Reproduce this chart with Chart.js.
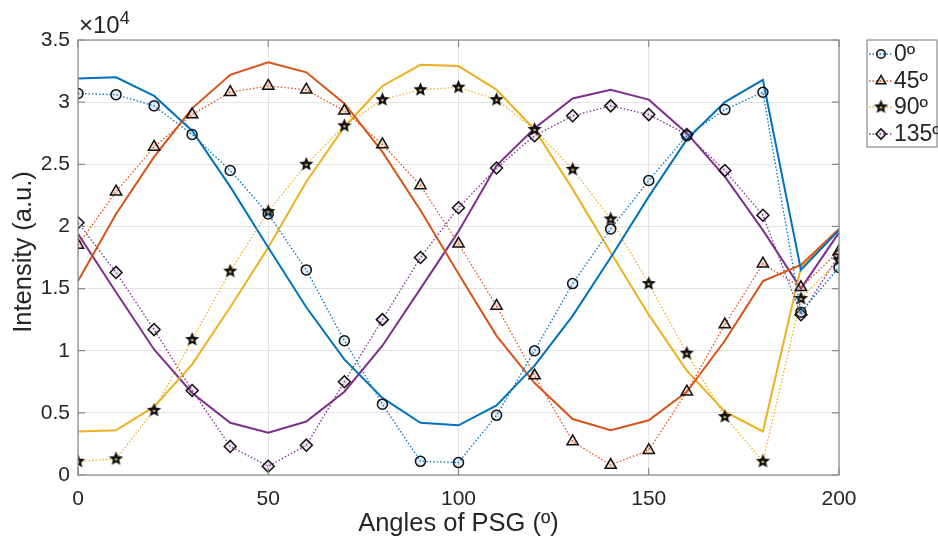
<!DOCTYPE html>
<html>
<head>
<meta charset="utf-8">
<script src="https://cdn.jsdelivr.net/npm/chart.js@4"></script>
<style>
html, body { margin: 0; padding: 0; background: #fff; }
</style>
</head>
<body>
<canvas id="chart" width="938" height="544"></canvas>
<script>
// angles of the PSG (x axis)
const angles = [0, 10, 20, 30, 40, 50, 60, 70, 80, 90, 100, 110, 120, 130, 140, 150, 160, 170, 180, 190, 200];

// simulated curves (solid)
const sim0   = [31900, 32000, 30500, 27700, 23200, 18300, 13500, 9300, 6200, 4200, 4000, 5600, 8800, 12800, 17500, 22400, 27000, 30000, 31800, 16500, 19700];
const sim45  = [15600, 21000, 25600, 29500, 32200, 33200, 32400, 29900, 26000, 21300, 16200, 11200, 7400, 4500, 3600, 4400, 6700, 10800, 15600, 16900, 19800];
const sim90  = [3500, 3600, 5500, 8900, 13500, 18300, 23600, 28000, 31300, 33000, 32900, 31000, 27800, 23000, 17900, 12900, 8400, 5100, 3500, 16700, 19700];
const sim135 = [19400, 14700, 10100, 6600, 4200, 3400, 4300, 6700, 10400, 15000, 19600, 24900, 27900, 30300, 31000, 30200, 27500, 24000, 19700, 15000, 19500];

// measured curves (dotted + markers)
const meas0   = [30700, 30600, 29700, 27400, 24500, 21000, 16500, 10800, 5700, 1100, 1000, 4800, 10000, 15400, 19800, 23700, 27300, 29400, 30800, 13100, 16700];
const meas45  = [18500, 22800, 26400, 29000, 30800, 31300, 31000, 29300, 26600, 23300, 18600, 13600, 8000, 2700, 800, 2000, 6700, 12100, 17000, 15100, 18000];
const meas90  = [1100, 1300, 5200, 10900, 16400, 21200, 25000, 28100, 30200, 31000, 31200, 30200, 27800, 24600, 20600, 15400, 9800, 4700, 1100, 14200, 17300];
const meas135 = [20300, 16300, 11700, 6800, 2300, 700, 2400, 7500, 12500, 17500, 21500, 24700, 27300, 28900, 29700, 29000, 27400, 24500, 20900, 12900, 17700];

const seriesNames = ['0º', '45º', '90º', '135º'];
const xTicks = [0, 50, 100, 150, 200];
const yTicks = [0, 5000, 10000, 15000, 20000, 25000, 30000, 35000];

const colors = ['#0072BD', '#D95319', '#EDB120', '#7E2F8E'];
const fills = ['rgba(0,114,189,0.12)', 'rgba(217,83,25,0.2)', 'rgba(237,177,32,0.3)', 'rgba(126,47,142,0.12)'];
const FONT = "'Liberation Sans', Arial, Helvetica, sans-serif";

// filled star marker (chart.js 'star' is only an asterisk)
function makeStar(r) {
    const c = document.createElement('canvas');
    const s = Math.ceil(r * 2 + 4);
    c.width = s; c.height = s;
    const g = c.getContext('2d');
    g.beginPath();
    for (let i = 0; i < 10; i++) {
        const rad = i % 2 === 0 ? r : r * 0.45;
        const a = -Math.PI / 2 + i * Math.PI / 5;
        const px = s / 2 + rad * Math.cos(a), py = s / 2 + rad * Math.sin(a);
        if (i === 0) g.moveTo(px, py); else g.lineTo(px, py);
    }
    g.closePath();
    g.fillStyle = '#111';
    g.fill();
    g.beginPath();
    g.arc(s / 2, s / 2 + 0.5, 1.3, 0, Math.PI * 2);
    g.fillStyle = '#d8b860';
    g.fill();
    return c;
}
const star = makeStar(7.5);

const markerStyles = ['circle', 'triangle', star, 'rectRot'];
const markerRadius = [5, 6.5, 7.5, 6];

function pts(ys) {
    return angles.map((x, i) => ({ x: x, y: ys[i] }));
}

const sims = [sim0, sim45, sim90, sim135];
const meas = [meas0, meas45, meas90, meas135];

const datasets = [];
sims.forEach((d, i) => {
    datasets.push({
        label: 'sim ' + seriesNames[i],
        data: pts(d),
        borderColor: colors[i],
        borderWidth: 2,
        pointRadius: 0,
        order: 2
    });
});
meas.forEach((d, i) => {
    datasets.push({
        label: seriesNames[i],
        data: pts(d),
        borderColor: colors[i],
        borderWidth: 1.3,
        borderDash: [1.5, 2],
        pointStyle: markerStyles[i],
        pointRadius: markerRadius[i],
        pointBackgroundColor: fills[i],
        pointBorderColor: '#111',
        pointBorderWidth: 1.5,
        order: 1
    });
});

const frame = {
    id: 'frame',
    afterDraw(chart) {
        const ctx = chart.ctx;
        const a = chart.chartArea;
        const xs = chart.scales.x, ys = chart.scales.y;
        ctx.save();
        // box
        ctx.strokeStyle = '#8a8a8a';
        ctx.lineWidth = 1.2;
        ctx.strokeRect(a.left, a.top, a.right - a.left, a.bottom - a.top);
        // inward ticks
        ctx.beginPath();
        xTicks.forEach(v => {
            const px = xs.getPixelForValue(v);
            ctx.moveTo(px, a.bottom); ctx.lineTo(px, a.bottom - 7);
            ctx.moveTo(px, a.top); ctx.lineTo(px, a.top + 7);
        });
        yTicks.forEach(v => {
            const py = ys.getPixelForValue(v);
            ctx.moveTo(a.left, py); ctx.lineTo(a.left + 7, py);
            ctx.moveTo(a.right, py); ctx.lineTo(a.right - 7, py);
        });
        ctx.stroke();

        // exponent label
        ctx.fillStyle = '#262626';
        ctx.textBaseline = 'alphabetic';
        ctx.textAlign = 'left';
        ctx.font = '24px ' + FONT;
        ctx.fillText('×10', 79, 33);
        const w = ctx.measureText('×10').width;
        ctx.font = '18px ' + FONT;
        ctx.fillText('4', 79 + w, 24);

        // axis titles
        ctx.font = '25.5px ' + FONT;
        ctx.textAlign = 'center';
        ctx.textBaseline = 'middle';
        ctx.fillText('Angles of PSG (º)', (a.left + a.right) / 2, 524);
        ctx.save();
        ctx.translate(24, 252);
        ctx.rotate(-Math.PI / 2);
        ctx.fillText('Intensity (a.u.)', 0, 0);
        ctx.restore();

        // legend
        const lx = 867, ly = 40, lw = 70, lh = 107;
        ctx.fillStyle = '#fff';
        ctx.fillRect(lx, ly, lw, lh);
        ctx.strokeStyle = '#8a8a8a';
        ctx.lineWidth = 1.2;
        ctx.strokeRect(lx, ly, lw, lh);
        const rows = [54, 81, 107, 134];
        seriesNames.forEach((name, i) => {
            const y = rows[i];
            ctx.save();
            ctx.strokeStyle = colors[i];
            ctx.lineWidth = 1.3;
            ctx.setLineDash([1.5, 2]);
            ctx.beginPath();
            ctx.moveTo(869, y); ctx.lineTo(893, y);
            ctx.stroke();
            ctx.restore();
            ctx.fillStyle = fills[i];
            ctx.strokeStyle = '#111';
            ctx.lineWidth = 1.5;
            Chart.helpers.drawPoint(ctx, {
                pointStyle: markerStyles[i],
                radius: markerRadius[i] * 0.85,
                rotation: 0,
                borderWidth: 1.5
            }, 881, y);
            ctx.fillStyle = '#262626';
            ctx.font = '23px ' + FONT;
            ctx.textAlign = 'left';
            ctx.textBaseline = 'middle';
            ctx.fillText(name, 894, y + 1);
        });
        ctx.restore();
    }
};

new Chart(document.getElementById('chart').getContext('2d'), {
    type: 'line',
    data: { datasets: datasets },
    options: {
        responsive: false,
        animation: false,
        layout: { padding: { left: 0, top: 40, right: 99, bottom: 0 } },
        plugins: {
            legend: { display: false },
            tooltip: { enabled: false }
        },
        elements: { line: { tension: 0 } },
        scales: {
            x: {
                type: 'linear',
                min: 0,
                max: 200,
                afterFit: s => { s.height = 69; },
                afterBuildTicks: s => { s.ticks = xTicks.map(v => ({ value: v })); },
                grid: { color: '#e3e3e3', drawTicks: false, lineWidth: 1 },
                border: { display: false },
                ticks: {
                    color: '#262626',
                    padding: 12,
                    maxRotation: 0,
                    font: { family: FONT, size: 21 }
                }
            },
            y: {
                min: 0,
                max: 35000,
                afterFit: s => { s.width = 78; },
                afterBuildTicks: s => { s.ticks = yTicks.map(v => ({ value: v })); },
                grid: { color: '#e3e3e3', drawTicks: false, lineWidth: 1 },
                border: { display: false },
                ticks: {
                    color: '#262626',
                    padding: 8,
                    font: { family: FONT, size: 21 },
                    callback: v => String(v / 10000)
                }
            }
        }
    },
    plugins: [frame]
});
</script>
</body>
</html>
